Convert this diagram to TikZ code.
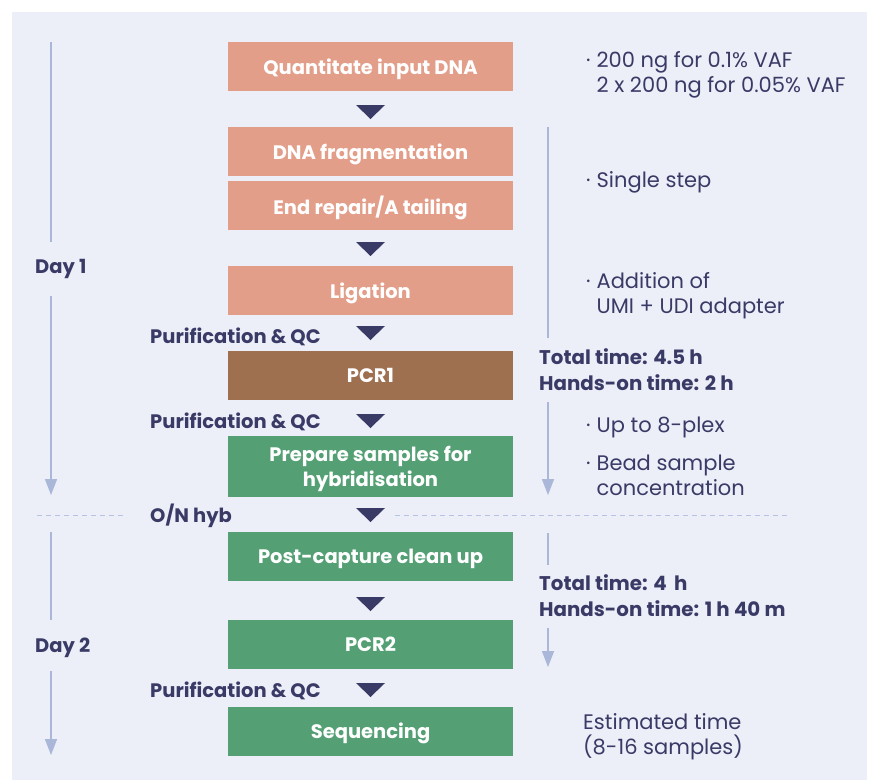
\documentclass[tikz,border=0pt]{standalone}
\usepackage{fontspec}
\setmainfont{Poppins}
\usetikzlibrary{arrows.meta}
\definecolor{panel}{HTML}{ECEEF8}
\definecolor{salmonbox}{HTML}{E39E8A}
\definecolor{brownbox}{HTML}{9E7050}
\definecolor{greenbox}{HTML}{54A074}
\definecolor{navy}{HTML}{3A3A66}
\definecolor{tline}{HTML}{AAB7D8}
\definecolor{dline}{HTML}{B7C1E2}
\tikzset{
  stepbox/.style={minimum width=285pt, minimum height=49pt, inner sep=0pt, text=white,
    text depth=0pt, font=\bfseries\fontsize{19.5}{25}\selectfont, align=center},
  lefttext/.style={anchor=base west, inner sep=0pt, text=navy, font=\bfseries\fontsize{19.5}{25}\selectfont},
  righttext/.style={anchor=base west, inner sep=0pt, text=navy, align=left, font=\fontsize{21}{25}\selectfont},
  rightbold/.style={anchor=base west, inner sep=0pt, text=navy, align=left, font=\bfseries\fontsize{19.8}{26}\selectfont},
  tl/.style={draw=tline, line width=1.4pt},
  tlarrow/.style={tl, -{Triangle[width=12pt,length=16pt]}},
  sep/.style={draw=dline, line width=1pt, dash pattern=on 5pt off 4pt},
  tri/.pic={\fill[navy] (-14.5,0) -- (14.5,0) -- (0,14) -- cycle;}
}
\newcommand{\bul}{\textperiodcentered\hspace{6pt}}
\newcommand{\bulgap}{\hphantom{\textperiodcentered\hspace{6pt}}}
\begin{document}
\begin{tikzpicture}[x=1pt,y=-1pt]
\useasboundingbox (0,0) rectangle (869,780);
\fill[white] (0,0) rectangle (869,780);
\fill[panel] (12,12) rectangle (867,780);

% step boxes
\node[stepbox, fill=salmonbox] (q) at (370.5,66.5) {Quantitate input DNA};
\node[stepbox, fill=salmonbox] (frag) at (370.5,151.5) {DNA fragmentation};
\node[stepbox, fill=salmonbox] (rep) at (370.5,205.5) {End repair/A tailing};
\node[stepbox, fill=salmonbox] (lig) at (370.5,290.5) {Ligation};
\node[stepbox, fill=brownbox] (pcr1) at (370.5,375.5) {PCR1};
\node[stepbox, fill=greenbox, minimum height=61pt] (prep) at (370.5,466.5) {Prepare samples for\\hybridisation};
\node[stepbox, fill=greenbox] (post) at (370.5,556.5) {Post-capture clean up};
\node[stepbox, fill=greenbox] (pcr2) at (370.5,644) {PCR2};
\node[stepbox, fill=greenbox] (seq) at (370.5,731) {Sequencing};

% triangles
\pic at (370.5,105) {tri};
\pic at (370.5,242) {tri};
\pic at (370.5,326) {tri};
\pic at (370.5,414) {tri};
\pic at (370.5,508) {tri};
\pic at (370.5,597) {tri};
\pic at (370.5,683) {tri};

% left labels
\node[lefttext] (pq1) at (150,343) {Purification \& QC};
\node[lefttext] (pq2) at (150,428) {Purification \& QC};
\node[lefttext] (onh) at (150,522) {O/N hyb};
\node[lefttext] (pq3) at (150,697) {Purification \& QC};
\node[lefttext] (d1) at (35,273) {Day 1};
\node[lefttext] (d2) at (35,652) {Day 2};

% left timeline
\coordinate (l1a) at (51,42);
\coordinate (l1b) at (51,242);
\coordinate (l1c) at (51,296);
\coordinate (l1d) at (51,495);
\coordinate (l2a) at (51,532);
\coordinate (l2b) at (51,620);
\coordinate (l2c) at (51,671);
\coordinate (l2d) at (51,755);
\draw[tl] (l1a) -- (l1b);
\draw[tlarrow] (l1c) -- (l1d);
\draw[tl] (l2a) -- (l2b);
\draw[tlarrow] (l2c) -- (l2d);

% right timeline
\coordinate (r1a) at (548,127);
\coordinate (r1b) at (548,338);
\coordinate (r1c) at (548,402);
\coordinate (r1d) at (548,495);
\coordinate (r2a) at (548,533);
\coordinate (r2b) at (548,565);
\coordinate (r2c) at (548,628);
\coordinate (r2d) at (548,667);
\draw[tl] (r1a) -- (r1b);
\draw[tlarrow] (r1c) -- (r1d);
\draw[tl] (r2a) -- (r2b);
\draw[tlarrow] (r2c) -- (r2d);

% separator
\coordinate (s1) at (37,515);
\coordinate (s2) at (126,515);
\coordinate (s3) at (395,515);
\coordinate (s4) at (787,515);
\draw[sep] (s1) -- (s2);
\draw[sep] (s3) -- (s4);

% right notes (base anchor = last line's baseline)
\node[righttext] (n1) at (586,92) {\bul 200 ng for 0.1\% VAF\\\bulgap 2 x 200 ng for 0.05\% VAF};
\node[righttext] (n2) at (586,187) {\bul Single step};
\node[righttext] (n3) at (586,313) {\bul Addition of\\\bulgap UMI + UDI adapter};
\node[rightbold] (t1) at (539,390) {Total time: 4.5 h\\Hands-on time: 2 h};
\node[righttext] (n4) at (586,432) {\bul Up to 8-plex};
\node[righttext] (n5) at (586,495) {\bul Bead sample\\\bulgap concentration};
\node[rightbold] (t2) at (539,616) {Total time: 4\, h\\Hands-on time: 1 h 40 m};
\node[righttext] (n6) at (583,754) {Estimated time\\(8-16 samples)};
\end{tikzpicture}
\end{document}
